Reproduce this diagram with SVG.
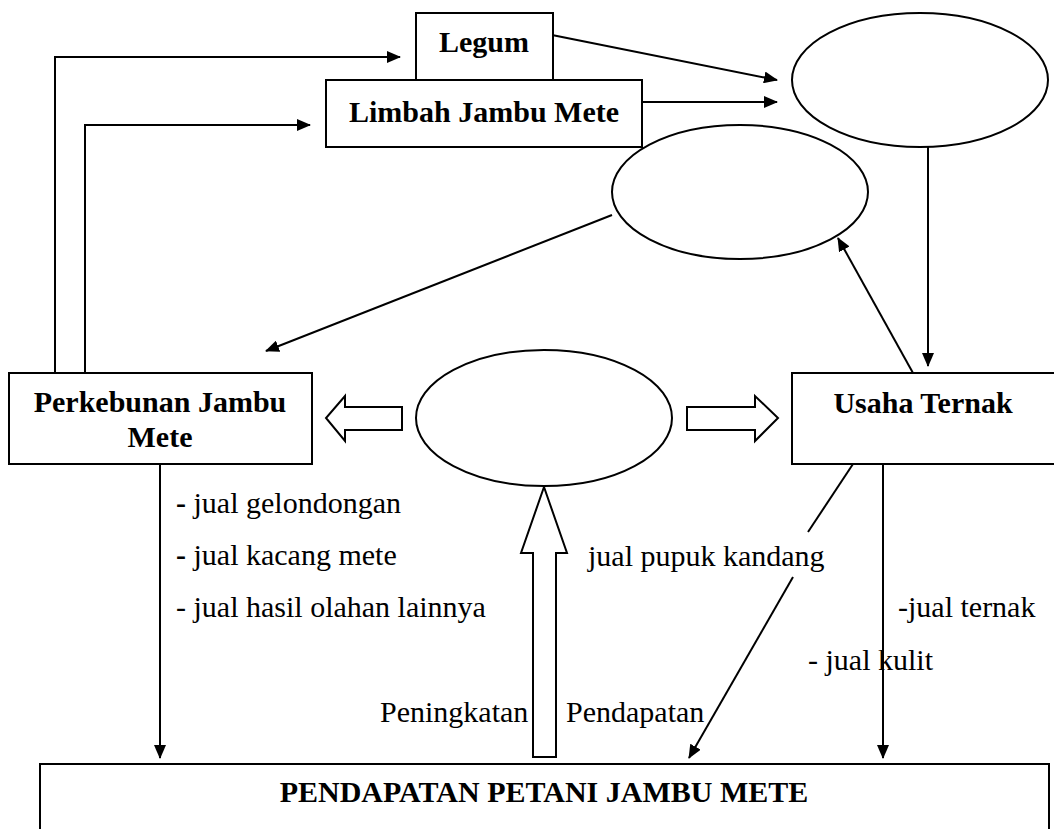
<svg xmlns="http://www.w3.org/2000/svg" width="1054" height="829" viewBox="0 0 1054 829">
<style>
.box{fill:#fff;stroke:#000;stroke-width:2}
.ell{fill:#fff;stroke:#000;stroke-width:2}
.ln{fill:none;stroke:#000;stroke-width:2}
.blk{fill:#fff;stroke:#000;stroke-width:2;stroke-linejoin:miter}
.b{font-family:"Liberation Serif",serif;font-weight:bold;font-size:30px;fill:#000}
.t{font-family:"Liberation Serif",serif;font-size:30px;fill:#000}
</style>
<defs>
<marker id="ah" markerWidth="14" markerHeight="12" refX="13" refY="6" orient="auto" markerUnits="userSpaceOnUse">
<path d="M0,0 L14,6 L0,12 Z" fill="#000"/>
</marker>
</defs>
<rect width="1054" height="829" fill="#fff"/>
<g id="connectors">
<polyline class="ln" points="55,373 55,57 400,57" marker-end="url(#ah)"/>
<polyline class="ln" points="85,373 85,125 310,125" marker-end="url(#ah)"/>
<line class="ln" x1="552" y1="35" x2="777" y2="80" marker-end="url(#ah)"/>
<line class="ln" x1="642" y1="102" x2="777" y2="102" marker-end="url(#ah)"/>
<line class="ln" x1="928" y1="147" x2="928" y2="366" marker-end="url(#ah)"/>
<line class="ln" x1="913" y1="373" x2="838" y2="238" marker-end="url(#ah)"/>
<line class="ln" x1="612" y1="215" x2="266" y2="351" marker-end="url(#ah)"/>
<line class="ln" x1="160" y1="464" x2="160" y2="758" marker-end="url(#ah)"/>
<line class="ln" x1="883" y1="464" x2="883" y2="758" marker-end="url(#ah)"/>
<line class="ln" x1="853" y1="464" x2="808" y2="532"/>
<line class="ln" x1="793" y1="577" x2="689" y2="758" marker-end="url(#ah)"/>
<polygon class="blk" points="402,407 345,407 345,396 326,418 345,441 345,430 402,430"/>
<polygon class="blk" points="687,407 755,407 755,396 778,418 755,441 755,430 687,430"/>
<polygon class="blk" points="533,757 533,553 521,553 544,487 567,553 556,553 556,757"/>
</g>
<g id="legum">
<rect class="box" x="416" y="13" width="137" height="67"/>
<text class="b" x="484" y="52" text-anchor="middle">Legum</text>
</g>
<g id="limbah">
<rect class="box" x="326" y="80" width="316" height="67"/>
<text class="b" x="484" y="122" text-anchor="middle">Limbah Jambu Mete</text>
</g>
<g id="ellipse-top">
<ellipse class="ell" cx="920" cy="80" rx="128" ry="67"/>
</g>
<g id="ellipse-mid">
<ellipse class="ell" cx="740" cy="192" rx="128" ry="67"/>
</g>
<g id="ellipse-center">
<ellipse class="ell" cx="544" cy="418" rx="128" ry="68"/>
</g>
<g id="perkebunan">
<rect class="box" x="9" y="373" width="303" height="91"/>
<text class="b" x="160" y="412" text-anchor="middle">Perkebunan Jambu</text>
<text class="b" x="160" y="447" text-anchor="middle">Mete</text>
</g>
<g id="usaha">
<rect class="box" x="792" y="373" width="264" height="91"/>
<text class="b" x="923" y="413" text-anchor="middle">Usaha Ternak</text>
</g>
<g id="pendapatan">
<rect class="box" x="40" y="764" width="1009" height="80"/>
<text class="b" x="544" y="802" text-anchor="middle">PENDAPATAN PETANI JAMBU METE</text>
</g>
<g id="labels">
<text class="t" x="176" y="513"><tspan font-weight="bold">-</tspan> jual gelondongan</text>
<text class="t" x="176" y="565"><tspan font-weight="bold">-</tspan> jual kacang mete</text>
<text class="t" x="176" y="617">- jual hasil olahan lainnya</text>
<text class="t" x="588" y="566">jual pupuk kandang</text>
<text class="t" x="898" y="617">-jual ternak</text>
<text class="t" x="808" y="670">- jual kulit</text>
<text class="t" x="380" y="722">Peningkatan</text>
<text class="t" x="566" y="722">Pendapatan</text>
</g>
</svg>
